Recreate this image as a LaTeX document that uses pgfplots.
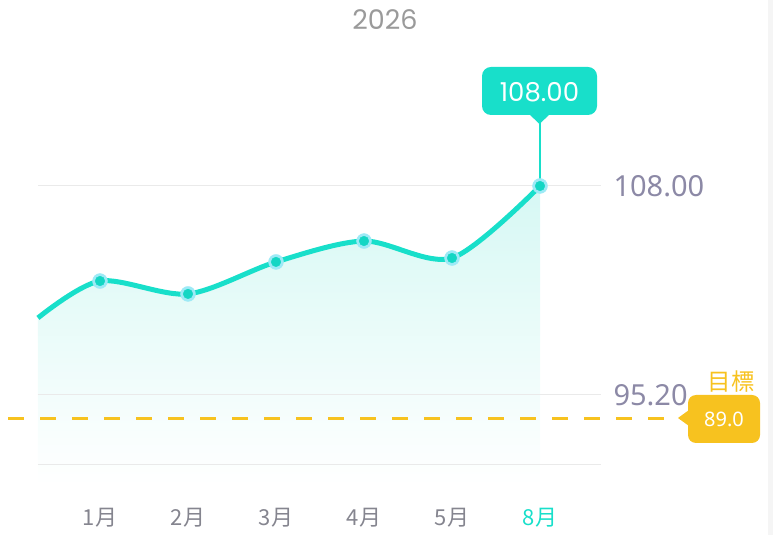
\documentclass[border=0pt]{standalone}
\usepackage{pgfplots}
\pgfplotsset{compat=1.18}
\usepackage{fontspec}
\setmainfont{Noto Sans}
\newfontfamily\cjk{Noto Sans CJK TC}
\newfontfamily\pop{Poppins}
\definecolor{cyanL}{HTML}{18DFCA}
\definecolor{cyanD}{HTML}{14D6C4}
\definecolor{ringC}{HTML}{9DEAF6}
\definecolor{fillT}{HTML}{D6F8F4}
\definecolor{tickG}{HTML}{8C89A6}
\definecolor{xlabG}{HTML}{85858F}
\definecolor{titleG}{HTML}{9A9A9A}
\definecolor{gridG}{HTML}{EAEAEA}
\definecolor{orangeT}{HTML}{F7C21F}
\begin{document}
\begin{tikzpicture}
\begin{axis}[
  at={(0,0)}, anchor=south west,
  width=773pt, height=535pt, scale only axis,
  xmin=-0.13636, xmax=8.6477,
  ymin=86.626, ymax=119.391,
  clip=false,
  axis line style={draw=none},
  tick style={draw=none},
  xtick={1,2,3,4,5,6},
  xticklabels={1月,2月,3月,4月,5月,{\color{cyanL}8月}},
  xticklabel style={font=\cjk\fontsize{22}{22}\selectfont, text=xlabG, anchor=center, yshift=17pt},
  ytick={95.2,108},
  yticklabels={95.20,108.00},
  yticklabel style={font=\fontsize{29}{29}\selectfont, text=tickG, anchor=west, xshift=610pt},
]
% area fill
\addplot[draw=none, top color=fillT, bottom color=white, smooth, tension=0.5, forget plot] coordinates {
 (0.295,99.92) (1,102.18) (2,101.39) (3,103.35) (4,104.63) (5,103.59) (6,108.0)}
 -- (axis cs:6,89.7) -- (axis cs:0.295,89.7) -- cycle;
% grid lines
\draw[gridG, line width=1pt] (axis cs:0.295,108) -- (axis cs:6.693,108);
\draw[gridG, line width=1pt] (axis cs:0.295,95.2) -- (axis cs:6.693,95.2);
\draw[gridG, line width=1pt] (axis cs:0.295,90.913) -- (axis cs:6.693,90.913);
% target line
\draw[orangeT, line width=3pt, dash pattern=on 16pt off 16pt] (axis cs:-0.045,93.79) -- (axis cs:7.61,93.79);
% main line
\addplot[cyanL, line width=5pt, smooth, tension=0.5] coordinates {
 (0.295,99.92) (1,102.18) (2,101.39) (3,103.35) (4,104.63) (5,103.59) (6,108.0)};
% tooltip stem
\draw[cyanL, line width=2.5pt] (axis cs:6,108) -- (axis cs:6,111.9);
% markers
\addplot[ringC, only marks, mark=*, mark size=7.5pt, mark options={fill=ringC, draw=ringC}] coordinates {
 (1,102.18) (2,101.39) (3,103.35) (4,104.63) (5,103.59) (6,108.0)};
\addplot[cyanD, only marks, mark=*, mark size=4.8pt, mark options={fill=cyanD, draw=cyanD}] coordinates {
 (1,102.18) (2,101.39) (3,103.35) (4,104.63) (5,103.59) (6,108.0)};
\end{axis}
\begin{scope}[shift={(0pt,535pt)}, x=1pt, y=-1pt]
  % right border strip
  \fill[gray!8] (768,0) rectangle (773,535);
  % title
  \node[font=\pop\fontsize{27}{27}\selectfont, text=titleG] at (385,20) {2026};
  % tooltip
  \fill[cyanL, rounded corners=9pt] (482,67) rectangle (597,115);
  \fill[cyanL] (529,114) -- (550,114) -- (539.5,124) -- cycle;
  \node[font=\pop\fontsize{26}{26}\selectfont, text=white] at (539.5,92) {108.00};
  % target badge
  \fill[orangeT, rounded corners=8pt] (688,395) rectangle (760,443);
  \fill[orangeT] (689,410) -- (689,426) -- (678,418) -- cycle;
  \node[font=\fontsize{20}{20}\selectfont, text=white] at (724,419) {89.0};
  \node[font=\cjk\fontsize{23.5}{23.5}\selectfont, text=orangeT] at (731,382) {目標};
\end{scope}
\pgfresetboundingbox
\path (0,0) rectangle (773pt,535pt);
\end{tikzpicture}
\end{document}
